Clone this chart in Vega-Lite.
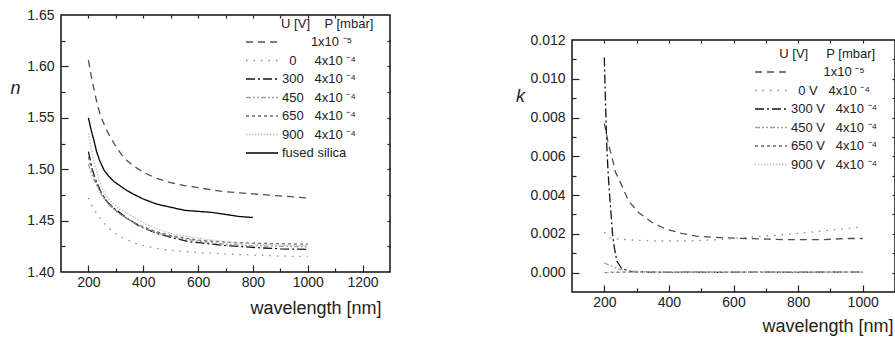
{
  "$schema": "https://vega.github.io/schema/vega-lite/v6.json",
  "padding": {"left": 9, "top": 7, "right": 0, "bottom": 0},
  "spacing": 122,
  "background": "white",
  "resolve": {"scale": {"color": "independent", "strokeDash": "independent"}, "legend": {"color": "independent", "strokeDash": "independent"}},
  "config": {
    "font": "Liberation Sans",
    "view": {"stroke": "#111", "strokeWidth": 1.5},
    "axis": {"grid": false, "domain": false, "labelFont": "Liberation Sans", "labelFontSize": 14, "labelColor": "#222", "titleFont": "Liberation Sans", "titleFontWeight": "normal", "titleColor": "#222", "tickColor": "#222", "tickWidth": 1.2, "labelFlush": false, "labelOverlap": false},
    "legend": {"orient": "none", "titleFontSize": 13, "titleFontWeight": "normal", "titleFont": "Liberation Sans", "titleColor": "#222", "titlePadding": 4, "titleLimit": 400, "labelFontSize": 13, "labelFont": "Liberation Sans", "labelColor": "#222", "labelOffset": 3, "labelLimit": 400, "symbolType": "stroke", "symbolSize": 1024, "symbolStrokeWidth": 1.4, "clipHeight": 14, "rowPadding": 4.5, "padding": 0}
  },
  "hconcat": [
    {
      "width": 329,
      "height": 257,
      "resolve": {"axis": {"x": "independent", "y": "independent"}},
      "layer": [
        {
          "data": {"values": [
            {"s":"1e-5","wl":200,"v":1.606},{"s":"1e-5","wl":210,"v":1.591},{"s":"1e-5","wl":220,"v":1.578},{"s":"1e-5","wl":230,"v":1.566},{"s":"1e-5","wl":240,"v":1.556},{"s":"1e-5","wl":250,"v":1.548},{"s":"1e-5","wl":270,"v":1.536},{"s":"1e-5","wl":300,"v":1.522},{"s":"1e-5","wl":330,"v":1.511},{"s":"1e-5","wl":360,"v":1.504},{"s":"1e-5","wl":400,"v":1.497},{"s":"1e-5","wl":450,"v":1.491},{"s":"1e-5","wl":500,"v":1.487},{"s":"1e-5","wl":550,"v":1.484},{"s":"1e-5","wl":600,"v":1.482},{"s":"1e-5","wl":650,"v":1.480},{"s":"1e-5","wl":700,"v":1.478},{"s":"1e-5","wl":750,"v":1.477},{"s":"1e-5","wl":800,"v":1.476},{"s":"1e-5","wl":850,"v":1.475},{"s":"1e-5","wl":900,"v":1.474},{"s":"1e-5","wl":950,"v":1.473},{"s":"1e-5","wl":1000,"v":1.472},
            {"s":"0","wl":200,"v":1.472},{"s":"0","wl":215,"v":1.463},{"s":"0","wl":233,"v":1.456},{"s":"0","wl":251,"v":1.449},{"s":"0","wl":281,"v":1.441},{"s":"0","wl":310,"v":1.435},{"s":"0","wl":336,"v":1.432},{"s":"0","wl":370,"v":1.428},{"s":"0","wl":397,"v":1.426},{"s":"0","wl":457,"v":1.4225},{"s":"0","wl":512,"v":1.4207},{"s":"0","wl":600,"v":1.419},{"s":"0","wl":706,"v":1.4175},{"s":"0","wl":800,"v":1.4165},{"s":"0","wl":900,"v":1.4155},{"s":"0","wl":1000,"v":1.415},
            {"s":"300","wl":200,"v":1.517},{"s":"300","wl":215,"v":1.499},{"s":"300","wl":227,"v":1.4895},{"s":"300","wl":245,"v":1.478},{"s":"300","wl":269,"v":1.468},{"s":"300","wl":293,"v":1.462},{"s":"300","wl":342,"v":1.452},{"s":"300","wl":390,"v":1.444},{"s":"300","wl":451,"v":1.4375},{"s":"300","wl":512,"v":1.433},{"s":"300","wl":566,"v":1.4295},{"s":"300","wl":603,"v":1.4285},{"s":"300","wl":706,"v":1.4255},{"s":"300","wl":827,"v":1.4235},{"s":"300","wl":900,"v":1.4225},{"s":"300","wl":1000,"v":1.422},
            {"s":"450","wl":200,"v":1.505},{"s":"450","wl":215,"v":1.493},{"s":"450","wl":230,"v":1.484},{"s":"450","wl":250,"v":1.474},{"s":"450","wl":270,"v":1.467},{"s":"450","wl":300,"v":1.459},{"s":"450","wl":340,"v":1.452},{"s":"450","wl":390,"v":1.4445},{"s":"450","wl":450,"v":1.438},{"s":"450","wl":510,"v":1.434},{"s":"450","wl":600,"v":1.430},{"s":"450","wl":700,"v":1.427},{"s":"450","wl":800,"v":1.4255},{"s":"450","wl":900,"v":1.425},{"s":"450","wl":1000,"v":1.4245},
            {"s":"650","wl":200,"v":1.512},{"s":"650","wl":215,"v":1.497},{"s":"650","wl":230,"v":1.486},{"s":"650","wl":250,"v":1.476},{"s":"650","wl":270,"v":1.468},{"s":"650","wl":300,"v":1.460},{"s":"650","wl":340,"v":1.452},{"s":"650","wl":390,"v":1.445},{"s":"650","wl":450,"v":1.439},{"s":"650","wl":510,"v":1.435},{"s":"650","wl":600,"v":1.431},{"s":"650","wl":700,"v":1.429},{"s":"650","wl":800,"v":1.428},{"s":"650","wl":900,"v":1.4275},{"s":"650","wl":1000,"v":1.427},
            {"s":"900","wl":200,"v":1.535},{"s":"900","wl":210,"v":1.520},{"s":"900","wl":220,"v":1.508},{"s":"900","wl":240,"v":1.488},{"s":"900","wl":260,"v":1.476},{"s":"900","wl":281,"v":1.469},{"s":"900","wl":310,"v":1.462},{"s":"900","wl":342,"v":1.457},{"s":"900","wl":380,"v":1.451},{"s":"900","wl":415,"v":1.446},{"s":"900","wl":460,"v":1.441},{"s":"900","wl":500,"v":1.4375},{"s":"900","wl":573,"v":1.434},{"s":"900","wl":650,"v":1.431},{"s":"900","wl":750,"v":1.428},{"s":"900","wl":850,"v":1.4265},{"s":"900","wl":1000,"v":1.4255},
            {"s":"fs","wl":200,"v":1.550},{"s":"fs","wl":210,"v":1.538},{"s":"fs","wl":220,"v":1.528},{"s":"fs","wl":230,"v":1.517},{"s":"fs","wl":240,"v":1.509},{"s":"fs","wl":257,"v":1.499},{"s":"fs","wl":275,"v":1.493},{"s":"fs","wl":293,"v":1.488},{"s":"fs","wl":320,"v":1.483},{"s":"fs","wl":342,"v":1.479},{"s":"fs","wl":370,"v":1.475},{"s":"fs","wl":400,"v":1.471},{"s":"fs","wl":450,"v":1.466},{"s":"fs","wl":500,"v":1.463},{"s":"fs","wl":550,"v":1.460},{"s":"fs","wl":600,"v":1.459},{"s":"fs","wl":650,"v":1.458},{"s":"fs","wl":700,"v":1.456},{"s":"fs","wl":750,"v":1.454},{"s":"fs","wl":800,"v":1.453}
          ]},
          "mark": {"type": "line", "strokeWidth": 1.3},
          "encoding": {
            "x": {"field": "wl", "type": "quantitative", "scale": {"domain": [100, 1300], "nice": false, "zero": false},
                  "axis": {"values": [200, 400, 600, 800, 1000, 1200], "format": "d", "ticks": false, "labelPadding": 3, "title": "wavelength [nm]", "titleFontSize": 18, "titleX": 320, "titleY": 36, "titleAlign": "right", "titleBaseline": "middle"}},
            "y": {"field": "v", "type": "quantitative", "scale": {"domain": [1.40, 1.65], "nice": false, "zero": false},
                  "axis": {"values": [1.40, 1.45, 1.50, 1.55, 1.60, 1.65], "format": ".2f", "ticks": false, "labelPadding": 7, "title": "n", "titleAngle": 0, "titleFontStyle": "italic", "titleFontSize": 18, "titleX": -46, "titleY": 73, "titleAlign": "center", "titleBaseline": "middle"}},
            "color": {"field": "s", "type": "nominal",
                      "scale": {"domain": ["1e-5", "0", "300", "450", "650", "900", "fs"], "range": ["#505050", "#8a8a8a", "#151515", "#a0a0a0", "#6a6a6a", "#c0c0c0", "#000000"]},
                      "legend": {"title": "\u200b\u00a0\u00a0\u00a0\u00a0\u00a0\u00a0\u00a0\u00a0\u00a0\u00a0U [V]\u00a0\u00a0\u00a0\u00a0P [mbar]", "legendX": 184, "legendY": 3,
                                 "labelExpr": "{'1e-5': '\u200b\u00a0\u00a0\u00a0\u00a0\u00a0\u00a0\u00a0\u00a01x10\u00a0\u207b\u2075', '0': '\u200b\u00a0\u00a00\u00a0\u00a0\u00a0\u00a0\u00a04x10\u00a0\u207b\u2074', '300': '300\u00a0\u00a0\u00a04x10\u00a0\u207b\u2074', '450': '450\u00a0\u00a0\u00a04x10\u00a0\u207b\u2074', '650': '650\u00a0\u00a0\u00a04x10\u00a0\u207b\u2074', '900': '900\u00a0\u00a0\u00a04x10\u00a0\u207b\u2074', 'fs': 'fused silica'}[datum.label]"}},
            "strokeDash": {"field": "s", "type": "nominal",
                      "scale": {"domain": ["1e-5", "0", "300", "450", "650", "900", "fs"], "range": [[7, 5], [1.5, 6], [9, 3, 2, 3], [5, 2, 2, 2, 2, 2], [3, 3], [1.5, 1.5], [1, 0]]},
                      "legend": {"title": "\u200b\u00a0\u00a0\u00a0\u00a0\u00a0\u00a0\u00a0\u00a0\u00a0\u00a0U [V]\u00a0\u00a0\u00a0\u00a0P [mbar]", "legendX": 184, "legendY": 3,
                                 "labelExpr": "{'1e-5': '\u200b\u00a0\u00a0\u00a0\u00a0\u00a0\u00a0\u00a0\u00a01x10\u00a0\u207b\u2075', '0': '\u200b\u00a0\u00a00\u00a0\u00a0\u00a0\u00a0\u00a04x10\u00a0\u207b\u2074', '300': '300\u00a0\u00a0\u00a04x10\u00a0\u207b\u2074', '450': '450\u00a0\u00a0\u00a04x10\u00a0\u207b\u2074', '650': '650\u00a0\u00a0\u00a04x10\u00a0\u207b\u2074', '900': '900\u00a0\u00a0\u00a04x10\u00a0\u207b\u2074', 'fs': 'fused silica'}[datum.label]"}}
          }
        },
        {
          "data": {"values": []},
          "mark": {"type": "line"},
          "encoding": {
            "x": {"field": "wl", "type": "quantitative", "axis": {"orient": "bottom", "values": [200, 400, 600, 800, 1000, 1200], "labels": false, "tickSize": -7, "title": null}},
            "y": {"field": "v", "type": "quantitative", "axis": {"orient": "left", "values": [1.45, 1.50, 1.55, 1.60], "labels": false, "tickSize": -7, "title": null}}
          }
        },
        {
          "data": {"values": []},
          "mark": {"type": "line"},
          "encoding": {
            "x": {"field": "wl", "type": "quantitative", "axis": {"orient": "bottom", "values": [300, 500, 700, 900, 1100], "labels": false, "tickSize": -4, "title": null}},
            "y": {"field": "v", "type": "quantitative", "axis": {"orient": "left", "values": [1.425, 1.475, 1.525, 1.575, 1.625], "labels": false, "tickSize": -4, "title": null}}
          }
        },
        {
          "data": {"values": []},
          "mark": {"type": "line"},
          "encoding": {
            "x": {"field": "wl", "type": "quantitative", "axis": {"orient": "top", "values": [200, 300, 400, 500, 600, 700, 800, 900, 1000, 1100, 1200], "labels": false, "tickSize": -3, "title": null}},
            "y": {"field": "v", "type": "quantitative", "axis": {"orient": "right", "values": [1.425, 1.45, 1.475, 1.50, 1.525, 1.55, 1.575, 1.60, 1.625], "labels": false, "tickSize": -3, "title": null}}
          }
        }
      ]
    },
    {
      "spacing": 0,
      "vconcat": [
        {
          "width": 10,
          "height": 17,
          "view": {"stroke": null},
          "data": {"values": []},
          "mark": {"type": "point"},
          "encoding": {}
        },
        {
          "width": 323,
          "height": 252,
          "resolve": {"axis": {"x": "independent", "y": "independent"}},
          "layer": [
            {
              "data": {"values": [
                {"s":"1e-5","wl":200,"v":0.0077},{"s":"1e-5","wl":205,"v":0.0073},{"s":"1e-5","wl":213,"v":0.0066},{"s":"1e-5","wl":224,"v":0.00595},{"s":"1e-5","wl":234,"v":0.0052},{"s":"1e-5","wl":254,"v":0.0045},{"s":"1e-5","wl":275,"v":0.0037},{"s":"1e-5","wl":306,"v":0.0031},{"s":"1e-5","wl":347,"v":0.0026},{"s":"1e-5","wl":387,"v":0.00227},{"s":"1e-5","wl":439,"v":0.00202},{"s":"1e-5","wl":485,"v":0.00188},{"s":"1e-5","wl":562,"v":0.0018},{"s":"1e-5","wl":663,"v":0.00175},{"s":"1e-5","wl":767,"v":0.0017},{"s":"1e-5","wl":869,"v":0.0017},{"s":"1e-5","wl":900,"v":0.00172},{"s":"1e-5","wl":950,"v":0.00176},{"s":"1e-5","wl":1000,"v":0.00176},
                {"s":"0","wl":200,"v":0.00208},{"s":"0","wl":215,"v":0.0018},{"s":"0","wl":230,"v":0.00175},{"s":"0","wl":300,"v":0.00167},{"s":"0","wl":357,"v":0.00163},{"s":"0","wl":459,"v":0.00163},{"s":"0","wl":562,"v":0.00171},{"s":"0","wl":663,"v":0.00185},{"s":"0","wl":767,"v":0.00197},{"s":"0","wl":869,"v":0.00214},{"s":"0","wl":1000,"v":0.00236},
                {"s":"300","wl":200,"v":0.0111},{"s":"300","wl":203,"v":0.0092},{"s":"300","wl":206,"v":0.0075},{"s":"300","wl":208,"v":0.0064},{"s":"300","wl":211,"v":0.0054},{"s":"300","wl":215,"v":0.0043},{"s":"300","wl":221,"v":0.0030},{"s":"300","wl":226,"v":0.0019},{"s":"300","wl":232,"v":0.0012},{"s":"300","wl":239,"v":0.0006},{"s":"300","wl":254,"v":0.0002},{"s":"300","wl":285,"v":0.00005},{"s":"300","wl":350,"v":0.00002},{"s":"300","wl":450,"v":0.00003},{"s":"300","wl":550,"v":0.00001},{"s":"300","wl":650,"v":0.00003},{"s":"300","wl":750,"v":0.00002},{"s":"300","wl":850,"v":0.00003},{"s":"300","wl":1000,"v":0.00002},
                {"s":"450","wl":200,"v":0.0005},{"s":"450","wl":210,"v":0.00042},{"s":"450","wl":220,"v":0.00035},{"s":"450","wl":250,"v":0.00015},{"s":"450","wl":300,"v":0.00006},{"s":"450","wl":400,"v":0.00003},{"s":"450","wl":500,"v":0.00004},{"s":"450","wl":600,"v":0.00002},{"s":"450","wl":700,"v":0.00004},{"s":"450","wl":800,"v":0.00003},{"s":"450","wl":900,"v":0.00002},{"s":"450","wl":1000,"v":0.00003},
                {"s":"650","wl":200,"v":0.0},{"s":"650","wl":250,"v":0.00002},{"s":"650","wl":300,"v":0.00003},{"s":"650","wl":400,"v":0.00001},{"s":"650","wl":500,"v":0.00003},{"s":"650","wl":600,"v":0.00002},{"s":"650","wl":700,"v":0.00003},{"s":"650","wl":800,"v":0.00001},{"s":"650","wl":900,"v":0.00003},{"s":"650","wl":1000,"v":0.00002},
                {"s":"900","wl":200,"v":0.00001},{"s":"900","wl":250,"v":0.00003},{"s":"900","wl":300,"v":0.00002},{"s":"900","wl":400,"v":0.00004},{"s":"900","wl":500,"v":0.00002},{"s":"900","wl":600,"v":0.00004},{"s":"900","wl":700,"v":0.00002},{"s":"900","wl":800,"v":0.00004},{"s":"900","wl":900,"v":0.00002},{"s":"900","wl":1000,"v":0.00003}
              ]},
              "mark": {"type": "line", "strokeWidth": 1.3},
              "encoding": {
                "x": {"field": "wl", "type": "quantitative", "scale": {"domain": [100, 1100], "nice": false, "zero": false},
                      "axis": {"values": [200, 400, 600, 800, 1000], "format": "d", "ticks": false, "labelPadding": 3, "title": "wavelength [nm]", "titleFontSize": 18, "titleX": 321, "titleY": 34, "titleAlign": "right", "titleBaseline": "middle"}},
                "y": {"field": "v", "type": "quantitative", "scale": {"domain": [-0.001, 0.012], "nice": false, "zero": false},
                      "axis": {"values": [0, 0.002, 0.004, 0.006, 0.008, 0.010, 0.012], "format": ".3f", "ticks": false, "labelPadding": 7, "title": "k", "titleAngle": 0, "titleFontStyle": "italic", "titleFontSize": 18, "titleX": -52, "titleY": 56, "titleAlign": "center", "titleBaseline": "middle"}},
                "color": {"field": "s", "type": "nominal",
                          "scale": {"domain": ["1e-5", "0", "300", "450", "650", "900"], "range": ["#505050", "#8a8a8a", "#151515", "#a0a0a0", "#6a6a6a", "#c0c0c0"]},
                          "legend": {"title": "\u200b\u00a0\u00a0\u00a0\u00a0\u00a0\u00a0\u00a0U [V]\u00a0\u00a0\u00a0\u00a0\u00a0P [mbar]", "legendX": 182, "legendY": 33,
                                     "labelExpr": "{'1e-5': '\u200b\u00a0\u00a0\u00a0\u00a0\u00a0\u00a0\u00a0\u00a0\u00a01x10\u00a0\u207b\u2075', '0': '\u200b\u00a0\u00a00 V\u00a0\u00a0\u00a04x10\u00a0\u207b\u2074', '300': '300 V\u00a0\u00a0\u00a04x10\u00a0\u207b\u2074', '450': '450 V\u00a0\u00a0\u00a04x10\u00a0\u207b\u2074', '650': '650 V\u00a0\u00a0\u00a04x10\u00a0\u207b\u2074', '900': '900 V\u00a0\u00a0\u00a04x10\u00a0\u207b\u2074'}[datum.label]"}},
                "strokeDash": {"field": "s", "type": "nominal",
                          "scale": {"domain": ["1e-5", "0", "300", "450", "650", "900"], "range": [[7, 5], [1.5, 6], [9, 3, 2, 3], [5, 2, 2, 2, 2, 2], [3, 3], [1.5, 1.5]]},
                          "legend": {"title": "\u200b\u00a0\u00a0\u00a0\u00a0\u00a0\u00a0\u00a0U [V]\u00a0\u00a0\u00a0\u00a0\u00a0P [mbar]", "legendX": 182, "legendY": 33,
                                     "labelExpr": "{'1e-5': '\u200b\u00a0\u00a0\u00a0\u00a0\u00a0\u00a0\u00a0\u00a0\u00a01x10\u00a0\u207b\u2075', '0': '\u200b\u00a0\u00a00 V\u00a0\u00a0\u00a04x10\u00a0\u207b\u2074', '300': '300 V\u00a0\u00a0\u00a04x10\u00a0\u207b\u2074', '450': '450 V\u00a0\u00a0\u00a04x10\u00a0\u207b\u2074', '650': '650 V\u00a0\u00a0\u00a04x10\u00a0\u207b\u2074', '900': '900 V\u00a0\u00a0\u00a04x10\u00a0\u207b\u2074'}[datum.label]"}}
              }
            },
            {
              "data": {"values": []},
              "mark": {"type": "line"},
              "encoding": {
                "x": {"field": "wl", "type": "quantitative", "axis": {"orient": "bottom", "values": [200, 400, 600, 800, 1000], "labels": false, "tickSize": -7, "title": null}},
                "y": {"field": "v", "type": "quantitative", "axis": {"orient": "left", "values": [0, 0.002, 0.004, 0.006, 0.008, 0.010], "labels": false, "tickSize": -7, "title": null}}
              }
            },
            {
              "data": {"values": []},
              "mark": {"type": "line"},
              "encoding": {
                "x": {"field": "wl", "type": "quantitative", "axis": {"orient": "bottom", "values": [300, 500, 700, 900], "labels": false, "tickSize": -4, "title": null}},
                "y": {"field": "v", "type": "quantitative", "axis": {"orient": "left", "values": [0.001, 0.003, 0.005, 0.007, 0.009, 0.011], "labels": false, "tickSize": -4, "title": null}}
              }
            },
            {
              "data": {"values": []},
              "mark": {"type": "line"},
              "encoding": {
                "x": {"field": "wl", "type": "quantitative", "axis": {"orient": "top", "values": [200, 300, 400, 500, 600, 700, 800, 900, 1000], "labels": false, "tickSize": -3, "title": null}},
                "y": {"field": "v", "type": "quantitative", "axis": {"orient": "right", "values": [0, 0.001, 0.002, 0.003, 0.004, 0.005, 0.006, 0.007, 0.008, 0.009, 0.010, 0.011], "labels": false, "tickSize": -3, "title": null}}
              }
            }
          ]
        }
      ]
    }
  ]
}
